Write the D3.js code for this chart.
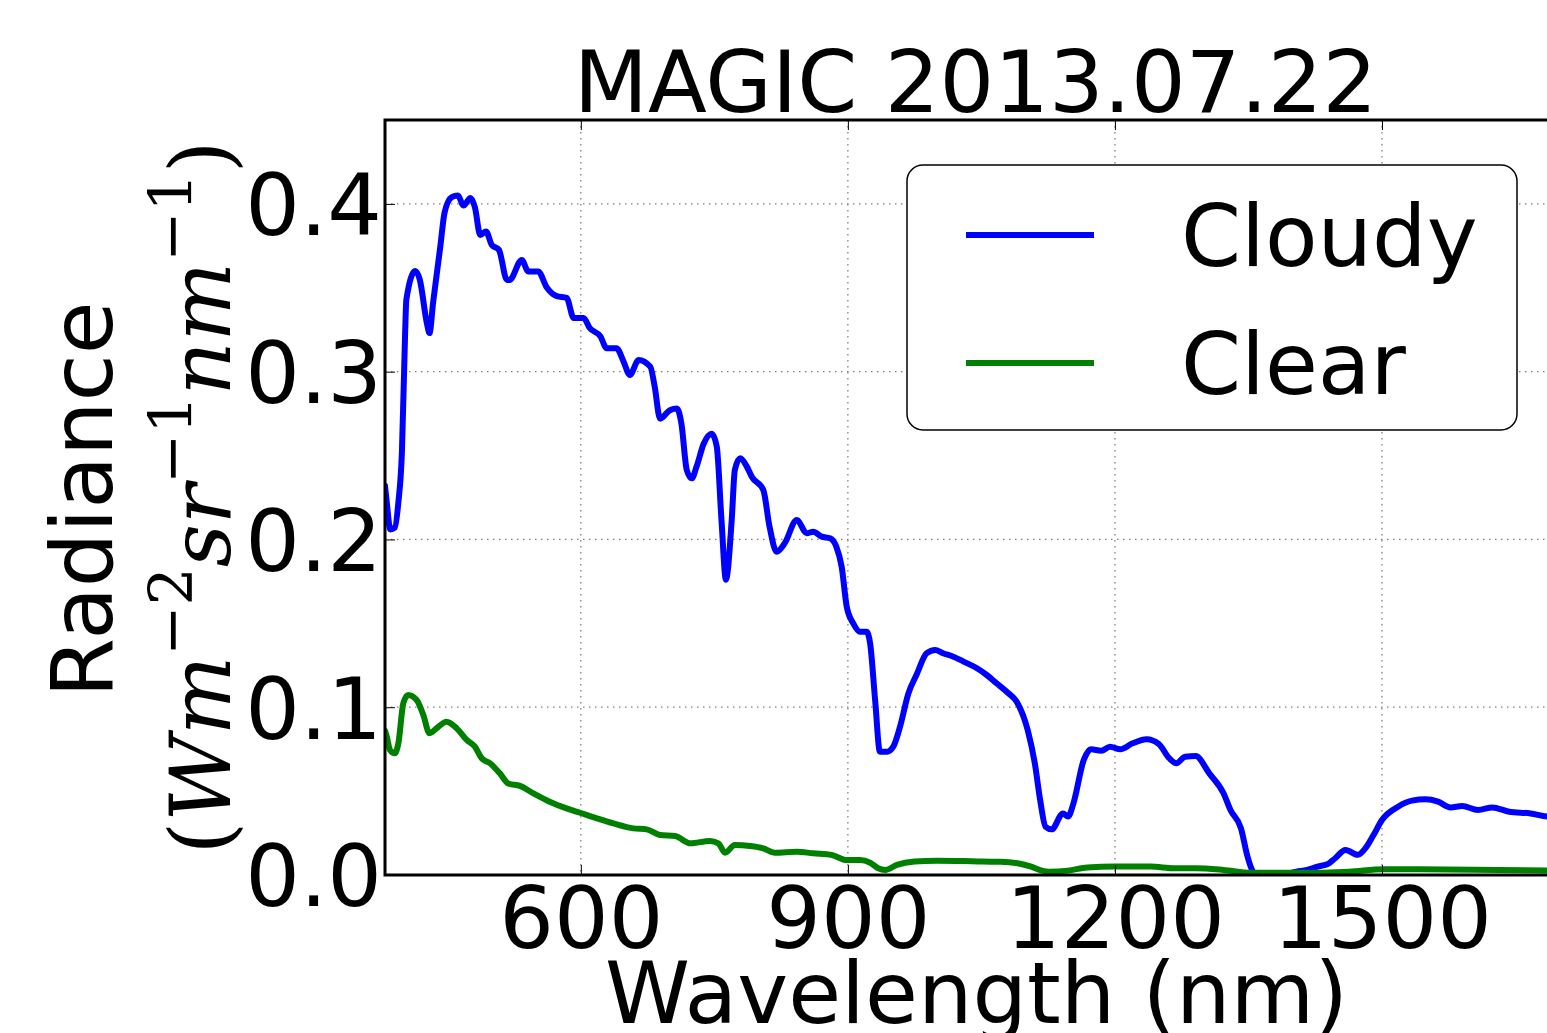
<!DOCTYPE html>
<html>
<head>
<meta charset="utf-8">
<script src="https://cdn.jsdelivr.net/npm/d3@7"></script>
<style>
  body { margin: 0; background: #fff; }
  svg { display: block; }
</style>
</head>
<body>
<svg id="vis" width="1547" height="1033"></svg>
<script>
// data
var cloudyNm = [380, 382, 386, 391, 395, 399, 402.5, 404, 414, 419, 427, 430, 434, 442, 447, 455, 462, 468, 476, 481,
    487, 493.5, 500, 508, 517, 520, 533.6, 541, 552, 562, 573, 584, 592, 603, 610, 622, 629, 640, 648, 655,
    665, 678, 683, 689, 700, 708, 713, 719, 724.6, 730, 738, 747, 752.7, 758, 763, 769.5, 773, 779, 786.5, 792,
    805, 812, 820, 829, 842.6, 853.8, 861, 870.6, 880, 887, 893, 898.7, 906, 913.7, 921, 925, 930.6, 936, 944, 951,
    958.6, 968, 977, 988.6, 998, 1007, 1018.6, 1030, 1045, 1056, 1067, 1080, 1090, 1102, 1110, 1116, 1122, 1129, 1141.6, 1147.4,
    1153.4, 1165, 1173, 1184.7, 1194.5, 1206, 1220, 1235.6, 1249.4, 1261, 1269, 1278.8, 1290.6, 1306, 1322, 1329.8, 1341.6, 1349, 1355, 1359,
    1384.5, 1404, 1416, 1427.7, 1439.5, 1447.4, 1459, 1472.8, 1482.7, 1490.5, 1500, 1518, 1533.6, 1549, 1563, 1577, 1590, 1608, 1624, 1643,
    1667, 1685.6, 1700];
var cloudyVal = [0.232, 0.222, 0.206, 0.207, 0.222, 0.252, 0.321, 0.343, 0.360, 0.355, 0.329, 0.323, 0.341, 0.374, 0.395, 0.404, 0.405, 0.399, 0.4035, 0.398,
    0.3815, 0.3835, 0.3755, 0.3726, 0.3547, 0.3547, 0.3666, 0.3597, 0.3597, 0.350, 0.345, 0.344, 0.332, 0.332, 0.326, 0.321, 0.314, 0.314, 0.306, 0.298,
    0.307, 0.303, 0.291, 0.272, 0.277, 0.278, 0.269, 0.2414, 0.2364, 0.2434, 0.257, 0.263, 0.2553, 0.2116, 0.176, 0.2116, 0.2414, 0.2484, 0.2434, 0.2374,
    0.2295, 0.2076, 0.1927, 0.1977, 0.2116, 0.2037, 0.2046, 0.2017, 0.2007, 0.1957, 0.1838, 0.160, 0.150, 0.145, 0.145, 0.138, 0.1043, 0.0735, 0.0735, 0.0765,
    0.0884, 0.1083, 0.1192, 0.1322, 0.1341, 0.1322, 0.1301, 0.1272, 0.1232, 0.1192, 0.1143, 0.1085, 0.1030, 0.0864, 0.0666, 0.0447, 0.0288, 0.0272, 0.0367, 0.0348,
    0.0427, 0.0686, 0.0749, 0.0741, 0.0765, 0.0749, 0.0785, 0.0809, 0.078, 0.0696, 0.0666, 0.0705, 0.0709, 0.0606, 0.0487, 0.0387, 0.0278, 0.0109, 0.002, 0.0,
    0.0, 0.002, 0.003, 0.005, 0.0066, 0.010, 0.0149, 0.012, 0.0169, 0.0238, 0.0328, 0.0407, 0.0443, 0.0451, 0.0437, 0.0403, 0.0411, 0.0387, 0.0403, 0.0377,
    0.0367, 0.0348, 0.0345];

var clearNm = [380, 382, 385.6, 391, 395, 400.6, 406, 415.6, 423, 430, 440, 449, 460.6, 471.8, 481, 488.6, 498, 509, 518.5, 531.7,
    546.7, 565, 584, 599, 618, 636.6, 659, 674, 689, 706, 723, 745, 754.5, 762, 773, 790, 805, 818, 842.6, 861,
    882, 898.7, 913.7, 925, 934, 942, 955, 975, 1000, 1030, 1050, 1071, 1090.6, 1106, 1118, 1126, 1147, 1169, 1200, 1240,
    1267, 1291, 1322, 1353, 1404, 1463, 1502, 1541, 1700];
var clearVal = [0.086, 0.0825, 0.0745, 0.0725, 0.0785, 0.1024, 0.1073, 0.1043, 0.0954, 0.0845, 0.0884, 0.0914, 0.0874, 0.0805, 0.0765, 0.0696, 0.0666, 0.0606, 0.0546, 0.0531,
    0.0487, 0.0437, 0.0397, 0.0371, 0.0338, 0.0308, 0.0278, 0.0272, 0.0238, 0.0232, 0.0189, 0.0203, 0.0189, 0.0133, 0.0179, 0.0173, 0.0159, 0.0133, 0.0139, 0.0129,
    0.0119, 0.0089, 0.0089, 0.0073, 0.004, 0.003, 0.006, 0.008, 0.0085, 0.0083, 0.008, 0.0079, 0.007, 0.005, 0.0026, 0.002, 0.0026, 0.0045, 0.005, 0.005,
    0.004, 0.004, 0.003, 0.0013, 0.0013, 0.002, 0.0034, 0.0034, 0.0026];

var xTicks = [600, 900, 1200, 1500];
var yTicks = [0.0, 0.1, 0.2, 0.3, 0.4];
var seriesNames = ["Cloudy", "Clear"];
var seriesColors = ["#0000ff", "#008000"];

// layout (plotTop etc, "top" is taken by window.top)
var plotLeft = 385, plotRight = 1560, plotTop = 120, plotBottom = 875;
var font = "'DejaVu Sans', Verdana, sans-serif";
var fs = 86;

var x = d3.scaleLinear().domain([380, 1700]).range([plotLeft, plotRight]);
var y = d3.scaleLinear().domain([0, 0.45]).range([plotBottom, plotTop]);

var svg = d3.select("#vis");

svg.append("clipPath").attr("id", "plot-clip")
    .append("rect")
    .attr("x", plotLeft).attr("y", plotTop)
    .attr("width", plotRight - plotLeft).attr("height", plotBottom - plotTop);

// grid
var grid = svg.append("g");
grid.selectAll(".gx").data(xTicks).enter().append("line")
    .attr("x1", function (d) { return x(d); })
    .attr("x2", function (d) { return x(d); })
    .attr("y1", plotTop).attr("y2", plotBottom);
grid.selectAll(".gy").data(yTicks.slice(1)).enter().append("line")
    .attr("x1", plotLeft).attr("x2", plotRight)
    .attr("y1", function (d) { return y(d); })
    .attr("y2", function (d) { return y(d); });
grid.selectAll("line")
    .attr("stroke", "#808080")
    .attr("stroke-width", 1.3)
    .attr("stroke-dasharray", "1.5,4.5");

// lines
var line = d3.line()
    .x(function (d) { return x(d[0]); })
    .y(function (d) { return y(d[1]); })
    .curve(d3.curveMonotoneX);

var series = [d3.zip(cloudyNm, cloudyVal), d3.zip(clearNm, clearVal)];
svg.append("g").attr("clip-path", "url(#plot-clip)")
    .selectAll("path").data(series).enter().append("path")
    .attr("d", line)
    .attr("fill", "none")
    .attr("stroke", function (d, i) { return seriesColors[i]; })
    .attr("stroke-width", 6)
    .attr("stroke-linejoin", "round")
    .attr("stroke-linecap", "round");

// axes
var xAxis = svg.append("g")
    .attr("transform", "translate(0," + plotBottom + ")")
    .call(d3.axisBottom(x).tickValues(xTicks).tickSizeInner(-10).tickSizeOuter(0).tickPadding(12).tickFormat(d3.format("d")));
var xAxisTop = svg.append("g")
    .attr("transform", "translate(0," + plotTop + ")")
    .call(d3.axisTop(x).tickValues(xTicks).tickSizeInner(-10).tickSizeOuter(0).tickFormat(""));
var yAxis = svg.append("g")
    .attr("transform", "translate(" + plotLeft + ",0)")
    .call(d3.axisLeft(y).tickValues(yTicks).tickSizeInner(-10).tickSizeOuter(0).tickPadding(3).tickFormat(d3.format(".1f")));

[xAxis, xAxisTop, yAxis].forEach(function (a) {
    a.select(".domain").remove();
    a.selectAll(".tick line").attr("stroke", "#000").attr("stroke-width", 1);
    a.selectAll("text")
        .attr("fill", "#000")
        .style("font-family", font)
        .style("font-size", fs + "px");
});
yAxis.selectAll("text").attr("dy", "0.36em");

// spines
svg.append("rect")
    .attr("x", plotLeft).attr("y", plotTop)
    .attr("width", plotRight - plotLeft).attr("height", plotBottom - plotTop)
    .attr("fill", "none")
    .attr("stroke", "#000")
    .attr("stroke-width", 3);

// title
svg.append("text")
    .attr("x", (plotLeft + plotRight) / 2 + 3)
    .attr("y", 112)
    .attr("text-anchor", "middle")
    .style("font-family", font)
    .style("font-size", fs + "px")
    .text("MAGIC 2013.07.22");

// x label
svg.append("text")
    .attr("x", (plotLeft + plotRight) / 2 + 4)
    .attr("y", 1023)
    .attr("text-anchor", "middle")
    .style("font-family", font)
    .style("font-size", fs + "px")
    .text("Wavelength (nm)");

// y label
svg.append("text")
    .attr("transform", "translate(112," + ((plotTop + plotBottom) / 2 + 2) + ") rotate(-90)")
    .attr("text-anchor", "middle")
    .style("font-family", font)
    .style("font-size", fs + "px")
    .text("Radiance");

var unit = svg.append("text")
    .attr("transform", "translate(230," + ((plotTop + plotBottom) / 2) + ") rotate(-90)")
    .attr("text-anchor", "middle")
    .style("font-family", "'DejaVu Serif', 'Liberation Serif', serif")
    .style("font-size", "84px");
var parts = [["(", 0, false], ["W", 0, true], ["m", 0, true], ["\u22122", -1, false], ["sr", 0, true],
    ["\u22121", -1, false], ["nm", 0, true], ["\u22121", -1, false], [")", 0, false]];
var shift = 0;
parts.forEach(function (p) {
    var dy = p[1] < 0 ? -38 - shift : -shift;
    shift = p[1] < 0 ? -38 : 0;
    unit.append("tspan")
        .attr("dy", dy)
        .style("font-style", p[2] ? "italic" : "normal")
        .style("font-size", p[1] < 0 ? "60px" : "84px")
        .text(p[0]);
});

// legend
var legend = svg.append("g");
legend.append("rect")
    .attr("x", 907).attr("y", 165)
    .attr("width", 610).attr("height", 265)
    .attr("rx", 16).attr("ry", 16)
    .attr("fill", "#fff")
    .attr("stroke", "#000")
    .attr("stroke-width", 1.5);
var items = legend.selectAll(".item").data(seriesNames).enter().append("g")
    .attr("transform", function (d, i) { return "translate(0," + (235 + i * 128) + ")"; });
items.append("line")
    .attr("x1", 966).attr("x2", 1094)
    .attr("stroke", function (d, i) { return seriesColors[i]; })
    .attr("stroke-width", 6);
items.append("text")
    .attr("x", 1181)
    .attr("y", 31)
    .style("font-family", font)
    .style("font-size", fs + "px")
    .text(function (d) { return d; });
</script>
</body>
</html>
